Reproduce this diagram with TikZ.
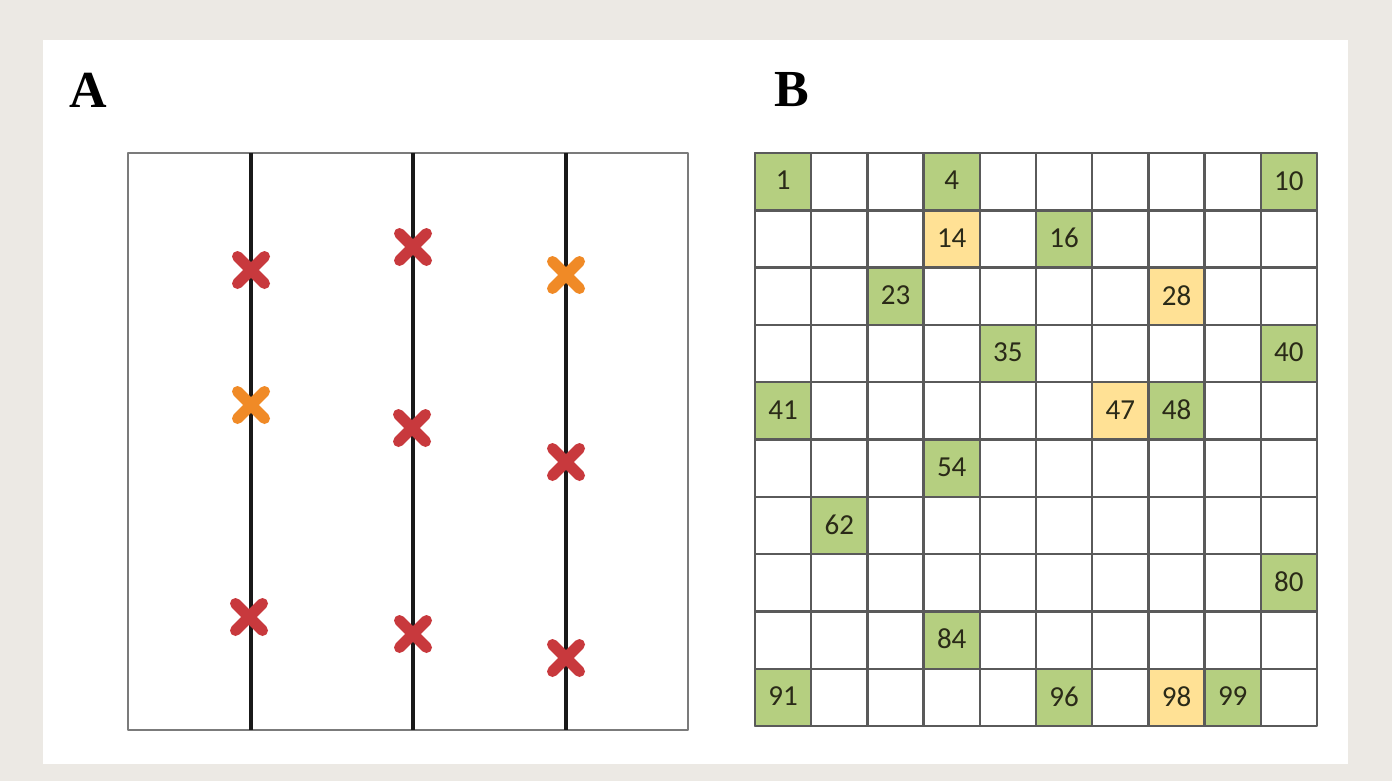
\documentclass[tikz,border=0pt]{standalone}
\usepackage{fontspec}
\setmainfont{Carlito}
\newfontfamily\panelfont{Liberation Serif}
\usetikzlibrary{shapes.misc}

\definecolor{framegray}{HTML}{ECE9E4}
\definecolor{cellgreen}{HTML}{B5CF80}
\definecolor{cellyellow}{HTML}{FFE195}
\definecolor{markred}{HTML}{C8393D}
\definecolor{markorange}{HTML}{F08A26}
\definecolor{gridgray}{HTML}{5A5A5A}
\definecolor{numtext}{HTML}{2A2A18}

\begin{document}
\begin{tikzpicture}[
    x=1pt,
    y=-1pt,
    line join=round,
    panel label/.style={
        font=\panelfont\bfseries\fontsize{52}{60}\selectfont,
        inner sep=0pt
    },
    field/.style={
        draw=gridgray!80,
        line width=2.2pt,
        rectangle,
        inner sep=0pt,
        minimum width=560,
        minimum height=577
    },
    transect/.style={line width=4pt, black!90},
    hit/.style={
        cross out,
        draw=markred,
        line width=11pt,
        line cap=round,
        minimum size=16,
        inner sep=0pt
    },
    hit orange/.style={hit, draw=markorange},
    cell/.style={
        draw=gridgray,
        line width=2.4pt,
        rectangle,
        inner sep=0pt,
        minimum width=56.2,
        minimum height=57.3,
        text=numtext,
        font=\fontsize{29}{34}\selectfont
    },
    green cell/.style={cell, fill=cellgreen},
    yellow cell/.style={cell, fill=cellyellow}
]

% =========================
% Frame
% =========================
\fill[framegray] (0,0) rectangle (1392,781);
\fill[white] (43,40) rectangle (1348,764);

\node[panel label] (labA) at (88,90) {A};
\node[panel label] (labB) at (792,90) {B};

% =========================
% Panel A: transects
% =========================
\node[field] (field) at (408,441.5) {};

\foreach \x in {251,413,566}
    \draw[transect] (\x,153) -- (\x,730);

\node[hit] (h11) at (251,270) {};
\node[hit orange] (h12) at (251,405) {};
\node[hit] (h13) at (249,617) {};

\node[hit] (h21) at (413,247) {};
\node[hit] (h22) at (412,428) {};
\node[hit] (h23) at (413,634) {};

\node[hit orange] (h31) at (566,275) {};
\node[hit] (h32) at (566,462) {};
\node[hit] (h33) at (566,658) {};

% =========================
% Panel B: grid
% =========================
\foreach \n in {1,...,100} {
    \pgfmathtruncatemacro{\row}{(\n-1)/10}
    \pgfmathtruncatemacro{\col}{mod(\n-1,10)}
    \node[cell] (cell\n) at (783.1+56.2*\col,181.65+57.3*\row) {};
}

\foreach \n/\kind in {1/green,4/green,10/green,14/yellow,16/green,
                      23/green,28/yellow,35/green,40/green,41/green,
                      47/yellow,48/green,54/green,62/green,80/green,
                      84/green,91/green,96/green,98/yellow,99/green} {
    \pgfmathtruncatemacro{\row}{(\n-1)/10}
    \pgfmathtruncatemacro{\col}{mod(\n-1,10)}
    \node[\kind\space cell] (num\n) at (783.1+56.2*\col,181.65+57.3*\row) {\raisebox{2pt}{\n}};
}

\end{tikzpicture}
\end{document}
